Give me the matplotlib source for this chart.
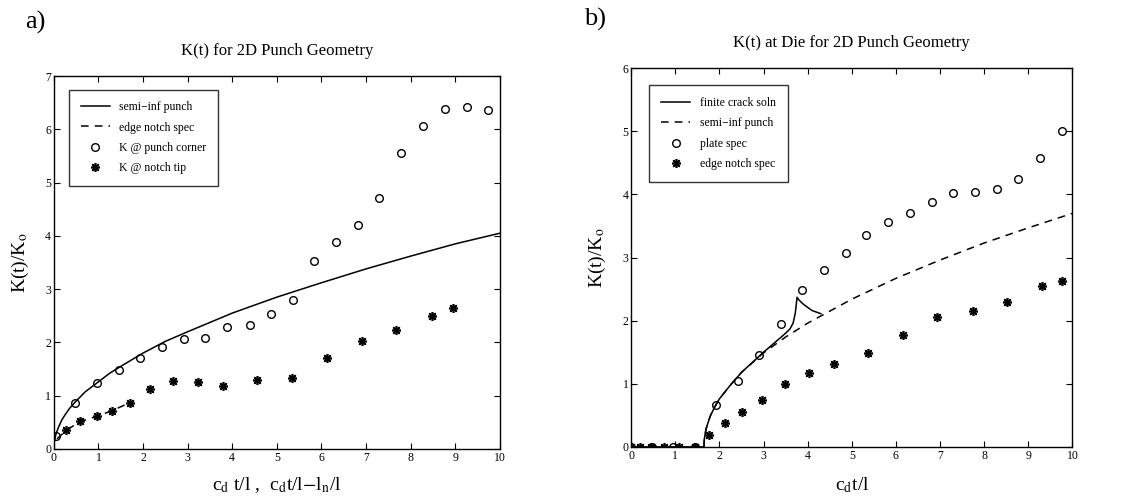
import matplotlib
matplotlib.use("Agg")
import matplotlib.pyplot as plt

plt.rcParams["font.family"] = ["Liberation Serif", "DejaVu Serif"]
plt.rcParams["mathtext.fontset"] = "stix"

# ---- panel a: K(t) for 2D punch geometry ----
a_line_x = [0.0, 0.005, 0.01, 0.02, 0.05, 0.1, 0.175, 0.25, 0.35, 0.5, 0.7, 1.0, 1.25, 1.5,
            2.0, 2.5, 3.0, 4.0, 5.0, 6.0, 7.0, 8.0, 9.0, 10.0]
a_line_y = [0.0, 0.09, 0.13, 0.18, 0.29, 0.40, 0.54, 0.64, 0.76, 0.90, 1.07, 1.26, 1.42, 1.55,
            1.80, 2.02, 2.20, 2.55, 2.85, 3.12, 3.38, 3.62, 3.85, 4.05]

a_dash_x = [0.07, 0.28, 0.58, 0.96, 1.31, 1.71, 1.8]
a_dash_y = [0.19, 0.35, 0.51, 0.61, 0.72, 0.87, 0.9]

a_corner_x = [0.05, 0.48, 0.96, 1.46, 1.94, 2.43, 2.91, 3.40, 3.89, 4.39, 4.87,
              5.36, 5.84, 6.33, 6.83, 7.30, 7.79, 8.27, 8.77, 9.26, 9.74]
a_corner_y = [0.24, 0.86, 1.23, 1.49, 1.71, 1.91, 2.07, 2.09, 2.28, 2.32, 2.54,
              2.80, 3.53, 3.88, 4.21, 4.71, 5.55, 6.06, 6.38, 6.42, 6.37]

a_notch_x = [0.28, 0.58, 0.96, 1.31, 1.71, 2.15, 2.67, 3.24, 3.79, 4.56, 5.35,
             6.12, 6.91, 7.68, 8.48, 8.96]
a_notch_y = [0.35, 0.52, 0.61, 0.71, 0.87, 1.13, 1.27, 1.25, 1.18, 1.30, 1.33,
             1.70, 2.02, 2.23, 2.50, 2.64]

# ---- panel b: K(t) at die ----
b_finite_x = [0.0, 1.65, 1.655, 1.66, 1.67, 1.7, 1.75, 1.8, 1.9, 2.0, 2.25, 2.5, 2.75, 3.0,
              3.3, 3.5, 3.6, 3.67, 3.72, 3.76, 3.8, 3.87, 3.94, 4.1, 4.3]
b_finite_y = [0.0, 0.0, 0.09, 0.13, 0.18, 0.29, 0.40, 0.50, 0.64, 0.76, 0.98, 1.18, 1.34, 1.5,
              1.68, 1.80, 1.87, 1.96, 2.12, 2.37, 2.33, 2.28, 2.24, 2.16, 2.11]

b_semi_x = [1.65, 1.655, 1.66, 1.67, 1.7, 1.75, 1.8, 1.9, 2.0, 2.25, 2.5, 3.0, 3.5, 4.0,
            5.0, 6.0, 7.0, 8.0, 9.0, 10.0]
b_semi_y = [0.0, 0.09, 0.13, 0.18, 0.29, 0.40, 0.50, 0.64, 0.76, 0.98, 1.18, 1.49, 1.74, 1.96,
            2.34, 2.67, 2.96, 3.23, 3.47, 3.70]

b_plate_x = [0.0, 0.47, 0.94, 1.45, 1.93, 2.42, 2.90, 3.39, 3.88, 4.37, 4.86, 5.33, 5.82,
             6.31, 6.81, 7.30, 7.79, 8.28, 8.77, 9.26, 9.77]
b_plate_y = [0.0, 0.0, 0.0, 0.0, 0.66, 1.04, 1.45, 1.95, 2.48, 2.80, 3.07, 3.36, 3.57,
             3.71, 3.88, 4.02, 4.03, 4.08, 4.25, 4.57, 5.00]

b_notch_x = [0.0, 0.2, 0.45, 0.75, 1.08, 1.45, 1.77, 2.12, 2.51, 2.96, 3.49, 4.03, 4.60,
             5.37, 6.15, 6.94, 7.74, 8.52, 9.31, 9.77]
b_notch_y = [0.0, 0.0, 0.0, 0.0, 0.0, 0.0, 0.19, 0.38, 0.55, 0.75, 0.99, 1.17, 1.32,
             1.48, 1.77, 2.05, 2.15, 2.29, 2.55, 2.63]

x_ticks = list(range(0, 11))

fig = plt.figure(figsize=(11.23, 5.01), dpi=100)
ax_a = fig.add_axes([0.048, 0.104, 0.397, 0.744])
ax_b = fig.add_axes([0.562, 0.108, 0.393, 0.756])

aster = (8, 2, 0)
circ_kw = dict(marker="o", ms=5.5, mfc="none", mec="black", mew=1.0, ls="none")
star_kw = dict(marker=aster, ms=6.5, mec="black", mew=1.2, ls="none")
dash = (0, (5, 4))


def style(ax, ymax):
    ax.set_xlim(0, 10)
    ax.set_ylim(0, ymax)
    ax.set_xticks(x_ticks)
    ax.set_yticks(range(0, ymax + 1))
    ax.tick_params(direction="in", length=4, width=0.8, labelsize=8.5,
                   top=True, right=True, pad=2)
    for s in ax.spines.values():
        s.set_linewidth(1.0)


ax_a.plot(a_line_x, a_line_y, color="black", lw=1.1, label="semi\u2212inf punch")
ax_a.plot(a_dash_x, a_dash_y, color="black", lw=1.1, ls=dash, label="edge notch spec")
ax_a.plot(a_corner_x, a_corner_y, label="K @ punch corner", **circ_kw)
ax_a.plot(a_notch_x, a_notch_y, label="K @ notch tip", **star_kw)
style(ax_a, 7)
ax_a.set_title("K(t) for 2D Punch Geometry", fontsize=12, pad=15)
ax_a.set_xlabel(r"c$_\mathrm{d}$ t/l ,  c$_\mathrm{d}$t/l$-$l$_\mathrm{n}$/l", fontsize=14, labelpad=8)
ax_a.set_ylabel(r"K(t)/K$_\mathrm{o}$", fontsize=14, labelpad=10)
leg_a = ax_a.legend(loc="upper left", bbox_to_anchor=(0.02, 0.98), fontsize=8.5,
                    frameon=True, fancybox=False, edgecolor="black", handlelength=2.5,
                    borderpad=1.0, labelspacing=0.7)
leg_a.get_frame().set_linewidth(1.0)

ax_b.plot(b_finite_x, b_finite_y, color="black", lw=1.1, label="finite crack soln")
ax_b.plot(b_semi_x, b_semi_y, color="black", lw=1.1, ls=dash, label="semi\u2212inf punch")
ax_b.plot(b_plate_x, b_plate_y, label="plate spec", **circ_kw)
ax_b.plot(b_notch_x, b_notch_y, label="edge notch spec", **star_kw)
style(ax_b, 6)
ax_b.set_title("K(t) at Die for 2D Punch Geometry", fontsize=12, pad=15)
ax_b.set_xlabel(r"c$_\mathrm{d}$t/l", fontsize=14, labelpad=10)
ax_b.set_ylabel(r"K(t)/K$_\mathrm{o}$", fontsize=14, labelpad=10)
leg_b = ax_b.legend(loc="upper left", bbox_to_anchor=(0.027, 0.97), fontsize=8.5,
                    frameon=True, fancybox=False, edgecolor="black", handlelength=2.5,
                    borderpad=1.0, labelspacing=0.7)
leg_b.get_frame().set_linewidth(1.0)

fig.text(0.022, 0.955, "a)", fontsize=19, va="center")
fig.text(0.520, 0.962, "b)", fontsize=19, va="center")

fig.savefig("out.png", dpi=100)
